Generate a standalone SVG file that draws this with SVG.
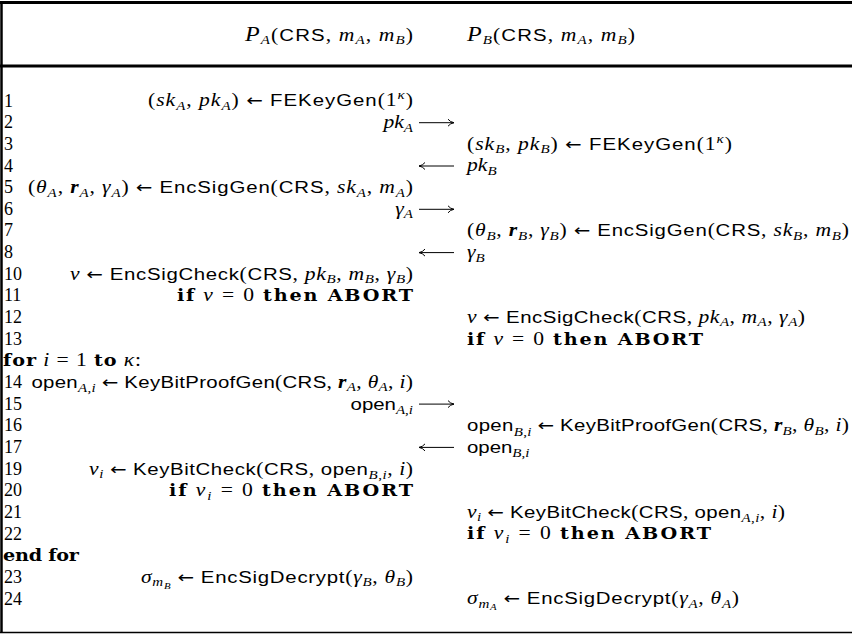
<svg xmlns="http://www.w3.org/2000/svg" width="852" height="634" viewBox="0 0 852 634">
<style>
text{font-family:"Liberation Serif",serif;font-size:18px;fill:#000}
.i{font-style:italic}
.bi{font-style:italic;font-weight:bold}
.s{font-family:"Liberation Sans",sans-serif;font-size:17px}
.b{font-family:"DejaVu Serif",serif;font-weight:bold;font-size:16px}
.sb{font-size:12.5px;font-style:italic}
.sn{font-size:12.5px}
.ss{font-size:9px;font-style:italic}
.ar{font-family:"DejaVu Sans",sans-serif;font-size:16.5px}
.cal{font-style:italic;font-size:20px}
.frame{stroke:#000;fill:none}
.msg{stroke:#000;stroke-width:1;fill:none}
</style>
<defs>
<marker id="ah" viewBox="0 0 10 10" refX="8.5" refY="5" markerWidth="10" markerHeight="10" markerUnits="userSpaceOnUse" orient="auto">
<path d="M2.5,1.5 Q4.8,4.4 8.5,5 Q4.8,5.6 2.5,8.5" fill="none" stroke="#000" stroke-width="1"/>
</marker>
</defs>
<rect width="852" height="634" fill="#fff"/>
<g id="frame">
<line class="frame" x1="0" y1="2.5" x2="852" y2="2.5" stroke-width="3"/>
<line class="frame" x1="1.5" y1="1" x2="1.5" y2="633" stroke-width="2.5"/>
<line class="frame" x1="0" y1="66" x2="852" y2="66" stroke-width="3"/>
<line class="frame" x1="0" y1="632.5" x2="852" y2="632.5" stroke-width="1.5"/>
</g>
<g id="line-numbers">
<text x="4" y="106.5">1</text>
<text x="4" y="128.2">2</text>
<text x="4" y="149.8">3</text>
<text x="4" y="171.5">4</text>
<text x="4" y="193.1">5</text>
<text x="4" y="214.8">6</text>
<text x="4" y="236.4">7</text>
<text x="4" y="258.1">8</text>
<text x="4" y="279.7">10</text>
<text x="4" y="301.4">11</text>
<text x="4" y="323">12</text>
<text x="4" y="344.7">13</text>
<text x="4" y="388">14</text>
<text x="4" y="409.6">15</text>
<text x="4" y="431.3">16</text>
<text x="4" y="452.9">17</text>
<text x="4" y="474.6">19</text>
<text x="4" y="496.2">20</text>
<text x="4" y="517.9">21</text>
<text x="4" y="539.5">22</text>
<text x="4" y="582.8">23</text>
<text x="4" y="604.5">24</text>
</g>
<g transform="scale(1.2 1)">
<g id="header">
<text x="344.17" y="41" text-anchor="end" textLength="140"><tspan class="cal">P</tspan><tspan class="sb" dy="3.5">A</tspan><tspan dy="-3.5">(</tspan><tspan class="s">CRS</tspan>, <tspan class="i">m</tspan><tspan class="sb" dy="3.5">A</tspan><tspan dy="-3.5">, </tspan><tspan class="i">m</tspan><tspan class="sb" dy="3.5">B</tspan><tspan dy="-3.5">)</tspan></text>
<text x="389.17" y="41" textLength="140"><tspan class="cal">P</tspan><tspan class="sb" dy="3.5">B</tspan><tspan dy="-3.5">(</tspan><tspan class="s">CRS</tspan>, <tspan class="i">m</tspan><tspan class="sb" dy="3.5">A</tspan><tspan dy="-3.5">, </tspan><tspan class="i">m</tspan><tspan class="sb" dy="3.5">B</tspan><tspan dy="-3.5">)</tspan></text>
</g>
<g id="loop">
<text x="2.5" y="366.3" textLength="115"><tspan class="b">for</tspan> <tspan class="i">i</tspan> = 1 <tspan class="b">to</tspan> <tspan class="i">κ</tspan>:</text>
<text x="2.5" y="561.2" class="b" textLength="63.3">end for</text>
</g>
<g id="party-A">
<text id="a1" x="344.17" y="106.5" text-anchor="end" textLength="220.8">(<tspan class="i">sk</tspan><tspan class="sb" dy="3.5">A</tspan><tspan dy="-3.5">, </tspan><tspan class="i">pk</tspan><tspan class="sb" dy="3.5">A</tspan><tspan dy="-3.5">) </tspan><tspan class="ar">←</tspan> <tspan class="s">FEKeyGen</tspan>(1<tspan class="sb" dy="-7">κ</tspan><tspan dy="7">)</tspan></text>
<text id="a2" x="344.17" y="128.2" text-anchor="end"><tspan class="i">pk</tspan><tspan class="sb" dy="3.5">A</tspan></text>
<text id="a5" x="344.17" y="193.1" text-anchor="end" textLength="320.8">(<tspan class="i">θ</tspan><tspan class="sb" dy="3.5">A</tspan><tspan dy="-3.5">, </tspan><tspan class="bi">r</tspan><tspan class="sb" dy="3.5">A</tspan><tspan dy="-3.5">, </tspan><tspan class="i">γ</tspan><tspan class="sb" dy="3.5">A</tspan><tspan dy="-3.5">) </tspan><tspan class="ar">←</tspan> <tspan class="s">EncSigGen</tspan>(<tspan class="s">CRS</tspan>, <tspan class="i">sk</tspan><tspan class="sb" dy="3.5">A</tspan><tspan dy="-3.5">, </tspan><tspan class="i">m</tspan><tspan class="sb" dy="3.5">A</tspan><tspan dy="-3.5">)</tspan></text>
<text id="a6" x="344.17" y="214.8" text-anchor="end"><tspan class="i">γ</tspan><tspan class="sb" dy="3.5">A</tspan></text>
<text id="a10" x="344.17" y="279.7" text-anchor="end" textLength="285.8"><tspan class="i">v</tspan> <tspan class="ar">←</tspan> <tspan class="s">EncSigCheck</tspan>(<tspan class="s">CRS</tspan>, <tspan class="i">pk</tspan><tspan class="sb" dy="3.5">B</tspan><tspan dy="-3.5">, </tspan><tspan class="i">m</tspan><tspan class="sb" dy="3.5">B</tspan><tspan dy="-3.5">, </tspan><tspan class="i">γ</tspan><tspan class="sb" dy="3.5">B</tspan><tspan dy="-3.5">)</tspan></text>
<text id="a11" x="344.17" y="301.4" text-anchor="end" textLength="196.7"><tspan class="b">if</tspan> <tspan class="i">v</tspan> = 0 <tspan class="b">then ABORT</tspan></text>
<text id="a14" x="344.17" y="388" text-anchor="end" textLength="318"><tspan class="s">open</tspan><tspan class="sn" dy="4.5"><tspan class="i">A</tspan>,<tspan class="i">i</tspan></tspan><tspan dy="-4.5"> </tspan><tspan class="ar">←</tspan> <tspan class="s">KeyBitProofGen</tspan>(<tspan class="s">CRS</tspan>, <tspan class="bi">r</tspan><tspan class="sb" dy="3.5">A</tspan><tspan dy="-3.5">, </tspan><tspan class="i">θ</tspan><tspan class="sb" dy="3.5">A</tspan><tspan dy="-3.5">, </tspan><tspan class="i">i</tspan>)</text>
<text id="a15" x="344.17" y="409.6" text-anchor="end"><tspan class="s">open</tspan><tspan class="sn" dy="4.5"><tspan class="i">A</tspan>,<tspan class="i">i</tspan></tspan></text>
<text id="a19" x="344.17" y="474.6" text-anchor="end" textLength="270"><tspan class="i">v</tspan><tspan class="sb" dy="3.5">i</tspan><tspan dy="-3.5"> </tspan><tspan class="ar">←</tspan> <tspan class="s">KeyBitCheck</tspan>(<tspan class="s">CRS</tspan>, <tspan class="s">open</tspan><tspan class="sn" dy="4.5"><tspan class="i">B</tspan>,<tspan class="i">i</tspan></tspan><tspan dy="-4.5">, </tspan><tspan class="i">i</tspan>)</text>
<text id="a20" x="344.17" y="496.2" text-anchor="end" textLength="203.3"><tspan class="b">if</tspan> <tspan class="i">v</tspan><tspan class="sb" dy="3.5">i</tspan><tspan dy="-3.5"> = 0 </tspan><tspan class="b">then ABORT</tspan></text>
<text id="a23" x="344.17" y="582.8" text-anchor="end" textLength="226.7"><tspan class="i">σ</tspan><tspan class="sb" dy="3.5">m</tspan><tspan class="ss" dy="2.5">B</tspan><tspan dy="-6"> </tspan><tspan class="ar">←</tspan> <tspan class="s">EncSigDecrypt</tspan>(<tspan class="i">γ</tspan><tspan class="sb" dy="3.5">B</tspan><tspan dy="-3.5">, </tspan><tspan class="i">θ</tspan><tspan class="sb" dy="3.5">B</tspan><tspan dy="-3.5">)</tspan></text>
</g>
<g id="party-B">
<text id="b3" x="389.17" y="149.8" textLength="220.8">(<tspan class="i">sk</tspan><tspan class="sb" dy="3.5">B</tspan><tspan dy="-3.5">, </tspan><tspan class="i">pk</tspan><tspan class="sb" dy="3.5">B</tspan><tspan dy="-3.5">) </tspan><tspan class="ar">←</tspan> <tspan class="s">FEKeyGen</tspan>(1<tspan class="sb" dy="-7">κ</tspan><tspan dy="7">)</tspan></text>
<text id="b4" x="389.17" y="171.5"><tspan class="i">pk</tspan><tspan class="sb" dy="3.5">B</tspan></text>
<text id="b7" x="389.17" y="236.4" textLength="318.3">(<tspan class="i">θ</tspan><tspan class="sb" dy="3.5">B</tspan><tspan dy="-3.5">, </tspan><tspan class="bi">r</tspan><tspan class="sb" dy="3.5">B</tspan><tspan dy="-3.5">, </tspan><tspan class="i">γ</tspan><tspan class="sb" dy="3.5">B</tspan><tspan dy="-3.5">) </tspan><tspan class="ar">←</tspan> <tspan class="s">EncSigGen</tspan>(<tspan class="s">CRS</tspan>, <tspan class="i">sk</tspan><tspan class="sb" dy="3.5">B</tspan><tspan dy="-3.5">, </tspan><tspan class="i">m</tspan><tspan class="sb" dy="3.5">B</tspan><tspan dy="-3.5">)</tspan></text>
<text id="b8" x="389.17" y="258.1"><tspan class="i">γ</tspan><tspan class="sb" dy="3.5">B</tspan></text>
<text id="b12" x="389.17" y="323" textLength="281.7"><tspan class="i">v</tspan> <tspan class="ar">←</tspan> <tspan class="s">EncSigCheck</tspan>(<tspan class="s">CRS</tspan>, <tspan class="i">pk</tspan><tspan class="sb" dy="3.5">A</tspan><tspan dy="-3.5">, </tspan><tspan class="i">m</tspan><tspan class="sb" dy="3.5">A</tspan><tspan dy="-3.5">, </tspan><tspan class="i">γ</tspan><tspan class="sb" dy="3.5">A</tspan><tspan dy="-3.5">)</tspan></text>
<text id="b13" x="389.17" y="344.7" textLength="196.7"><tspan class="b">if</tspan> <tspan class="i">v</tspan> = 0 <tspan class="b">then ABORT</tspan></text>
<text id="b16" x="389.17" y="431.3" textLength="318.3"><tspan class="s">open</tspan><tspan class="sn" dy="4.5"><tspan class="i">B</tspan>,<tspan class="i">i</tspan></tspan><tspan dy="-4.5"> </tspan><tspan class="ar">←</tspan> <tspan class="s">KeyBitProofGen</tspan>(<tspan class="s">CRS</tspan>, <tspan class="bi">r</tspan><tspan class="sb" dy="3.5">B</tspan><tspan dy="-3.5">, </tspan><tspan class="i">θ</tspan><tspan class="sb" dy="3.5">B</tspan><tspan dy="-3.5">, </tspan><tspan class="i">i</tspan>)</text>
<text id="b17" x="389.17" y="452.9"><tspan class="s">open</tspan><tspan class="sn" dy="4.5"><tspan class="i">B</tspan>,<tspan class="i">i</tspan></tspan></text>
<text id="b21" x="389.17" y="517.9" textLength="265"><tspan class="i">v</tspan><tspan class="sb" dy="3.5">i</tspan><tspan dy="-3.5"> </tspan><tspan class="ar">←</tspan> <tspan class="s">KeyBitCheck</tspan>(<tspan class="s">CRS</tspan>, <tspan class="s">open</tspan><tspan class="sn" dy="4.5"><tspan class="i">A</tspan>,<tspan class="i">i</tspan></tspan><tspan dy="-4.5">, </tspan><tspan class="i">i</tspan>)</text>
<text id="b22" x="389.17" y="539.5" textLength="203.3"><tspan class="b">if</tspan> <tspan class="i">v</tspan><tspan class="sb" dy="3.5">i</tspan><tspan dy="-3.5"> = 0 </tspan><tspan class="b">then ABORT</tspan></text>
<text id="b24" x="389.17" y="604.5" textLength="226.7"><tspan class="i">σ</tspan><tspan class="sb" dy="3.5">m</tspan><tspan class="ss" dy="2.5">A</tspan><tspan dy="-6"> </tspan><tspan class="ar">←</tspan> <tspan class="s">EncSigDecrypt</tspan>(<tspan class="i">γ</tspan><tspan class="sb" dy="3.5">A</tspan><tspan dy="-3.5">, </tspan><tspan class="i">θ</tspan><tspan class="sb" dy="3.5">A</tspan><tspan dy="-3.5">)</tspan></text>
</g>
</g>
<g id="connectors">
<line class="msg" x1="419" y1="122.7" x2="454" y2="122.7" marker-end="url(#ah)"/>
<line class="msg" x1="454" y1="166" x2="419" y2="166" marker-end="url(#ah)"/>
<line class="msg" x1="419" y1="209.3" x2="454" y2="209.3" marker-end="url(#ah)"/>
<line class="msg" x1="454" y1="252.6" x2="419" y2="252.6" marker-end="url(#ah)"/>
<line class="msg" x1="419" y1="404.1" x2="454" y2="404.1" marker-end="url(#ah)"/>
<line class="msg" x1="454" y1="447.4" x2="419" y2="447.4" marker-end="url(#ah)"/>
</g>
</svg>
